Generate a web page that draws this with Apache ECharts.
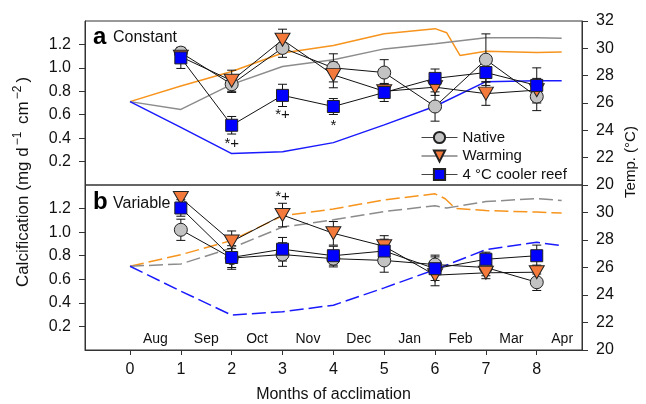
<!DOCTYPE html>
<html><head><meta charset="utf-8">
<script src="https://cdn.jsdelivr.net/npm/echarts@6/dist/echarts.min.js"></script>
<style>html,body{margin:0;padding:0;background:#fff}#c{width:646px;height:404px}</style>
</head><body><div id="c"></div>
<script>
// ---------- data ----------
const months = [1, 2, 3, 4, 5, 6, 7, 8];
const monthTicks = [0, 1, 2, 3, 4, 5, 6, 7, 8];
const monthNames = ['Aug', 'Sep', 'Oct', 'Nov', 'Dec', 'Jan', 'Feb', 'Mar', 'Apr'];
const monthNamePos = [0.5, 1.5, 2.5, 3.5, 4.5, 5.5, 6.5, 7.5, 8.5];
const calcTicks = [0.2, 0.4, 0.6, 0.8, 1.0, 1.2];
const tempTicksA = [20, 22, 24, 26, 28, 30, 32];
const tempTicksB = [20, 22, 24, 26, 28, 30];
const seriesNames = ['Native', 'Warming', '4 °C cooler reef'];

// Panel a: Constant
const nativeA = [1.13, 0.86, 1.17, 1.00, 0.96, 0.67, 1.07, 0.755];
const nativeAErr = [0.04, 0.07, 0.08, 0.12, 0.11, 0.125, 0.22, 0.12];
const warmA = [1.095, 0.89, 1.24, 0.94, 0.80, 0.835, 0.78, 0.81];
const warmAErr = [0.04, 0.09, 0.09, 0.11, 0.06, 0.07, 0.1, 0.1];
const coolA = [1.085, 0.51, 0.765, 0.67, 0.79, 0.91, 0.96, 0.85];
const coolAErr = [0.09, 0.075, 0.095, 0.068, 0.077, 0.08, 0.08, 0.15];
const sigA = ['', '*+', '*+', '*', '', '', '', ''];

// Panel b: Variable
const nativeB = [1.02, 0.78, 0.81, 0.775, 0.76, 0.725, 0.70, 0.575];
const nativeBErr = [0.09, 0.08, 0.1, 0.07, 0.1, 0.08, 0.07, 0.07];
const warmB = [1.29, 0.92, 1.145, 0.99, 0.88, 0.635, 0.655, 0.66];
const warmBErr = [0.05, 0.09, 0.1, 0.1, 0.09, 0.09, 0.05, 0.06];
const coolB = [1.205, 0.785, 0.855, 0.80, 0.84, 0.69, 0.77, 0.80];
const coolBErr = [0.07, 0.1, 0.1, 0.08, 0.1, 0.1, 0.06, 0.09];
const sigB = ['', '', '*+', '', '', '', '', ''];

// Temperature profiles (°C), panel a (solid)
const tOrangeAX = [0, 1, 2, 3, 4, 5, 6, 6.23, 6.49, 7, 8, 8.49];
const tOrangeA = [26.1, 27.24, 28.3, 29.66, 30.2, 31.07, 31.44, 31.14, 29.48, 29.78, 29.7, 29.73];
const tGreyAX = [0, 1, 2, 3, 4, 5, 6, 7, 8, 8.49];
const tGreyA = [26.1, 25.53, 27.36, 28.67, 29.16, 29.96, 30.33, 30.77, 30.77, 30.73];
const tBlueAX = [0, 1, 2, 3, 4, 5, 6, 7, 8, 8.49];
const tBlueA = [26.1, 24.22, 22.3, 22.44, 23.1, 24.4, 25.76, 27.56, 27.63, 27.63];
// panel b (dashed)
const tOrangeBX = [0, 1, 2, 3, 4, 5, 6, 6.2, 6.4, 7, 8, 8.49];
const tOrangeB = [26.09, 26.93, 27.97, 29.76, 30.25, 30.92, 31.36, 31.0, 30.3, 30.14, 30.03, 29.96];
const tGreyBX = [0, 1, 2, 3, 4, 5, 6, 6.23, 7, 8, 8.49];
const tGreyB = [26.09, 26.26, 27.42, 28.94, 29.47, 30.07, 30.49, 30.32, 30.8, 31.01, 30.87];
const tBlueBX = [0, 1, 2, 3, 4, 5, 6, 7, 8, 8.49];
const tBlueB = [26.09, 24.28, 22.54, 22.78, 23.26, 24.52, 25.85, 27.3, 27.83, 27.59];

// ---------- styles ----------
const FONT = '"Liberation Sans", Arial, Helvetica, sans-serif';
const TXT = '#111';
const AX = '#333';
const cOrange = '#f7941d', cGrey = '#8c8c8c', cBlue = '#1a1aff';
const markers = [
  { symbol: 'circle', size: 13, fill: '#c3c3c3' },
  { symbol: 'path://M0,0L16,0L8,14Z', size: [15, 13], fill: '#f47a3c' },
  { symbol: 'rect', size: 12, fill: '#0000ff' }
];

const pair = (xs, ys) => xs.map((x, i) => [x, ys[i]]);

function errSeries(vals, errs, xi, yi) {
  return {
    type: 'custom', xAxisIndex: xi, yAxisIndex: yi, z: 3, silent: true,
    data: months.map((m, i) => [m, vals[i], errs[i]]),
    encode: { x: 0, y: 1 },
    renderItem: function (params, api) {
      const x = api.value(0), v = api.value(1), e = api.value(2);
      const t = api.coord([x, v + e]), b = api.coord([x, v - e]);
      const w = 4.5, st = { stroke: '#111', lineWidth: 1 };
      return { type: 'group', children: [
        { type: 'line', shape: { x1: t[0], y1: t[1], x2: b[0], y2: b[1] }, style: st },
        { type: 'line', shape: { x1: t[0] - w, y1: t[1], x2: t[0] + w, y2: t[1] }, style: st },
        { type: 'line', shape: { x1: b[0] - w, y1: b[1], x2: b[0] + w, y2: b[1] }, style: st }
      ]};
    }
  };
}

function calcSeries(k, vals, xi, yi, sig, sigPos) {
  const mk = markers[k];
  return {
    name: seriesNames[k], type: 'line', xAxisIndex: xi, yAxisIndex: yi, z: 4,
    symbol: mk.symbol, symbolSize: mk.size, showAllSymbol: true,
    itemStyle: { color: mk.fill, borderColor: '#222', borderWidth: 1 },
    lineStyle: { color: '#111', width: 1 },
    emphasis: { disabled: true },
    data: months.map((m, i) => {
      const d = { value: [m, vals[i]] };
      if (sig && sig[i]) {
        d.label = { show: true, formatter: sig[i], position: sigPos, distance: sigPos === 'top' ? 4 : 5,
          fontSize: 15, fontFamily: FONT, color: TXT };
      }
      return d;
    })
  };
}

function tempSeries(xs, ys, color, xi, yi, dashed) {
  return {
    type: 'line', xAxisIndex: xi, yAxisIndex: yi, z: 2, symbol: 'none', silent: true,
    lineStyle: { color: color, width: 1.5, type: dashed ? [14, 5] : 'solid' },
    data: pair(xs, ys)
  };
}

const xCommon = { type: 'value', min: -0.885, max: 8.89, splitLine: { show: false } };
function calcAxis(gi) {
  return {
    type: 'value', gridIndex: gi, position: 'left', min: 0, max: 1.4,
    splitLine: { show: false },
    axisLine: { show: true, onZero: false, lineStyle: { color: AX } },
    axisTick: { show: true, customValues: calcTicks, length: 6, lineStyle: { color: AX } },
    axisLabel: { customValues: calcTicks, formatter: v => v.toFixed(1), margin: 14,
      fontSize: 16, fontFamily: FONT, color: TXT }
  };
}
function tempAxis(gi, ticks) {
  return {
    type: 'value', gridIndex: gi, position: 'right', min: 20, max: 32,
    splitLine: { show: false },
    axisLine: { show: true, onZero: false, lineStyle: { color: AX } },
    axisTick: { show: true, customValues: ticks, length: 6, lineStyle: { color: AX } },
    axisLabel: { customValues: ticks, margin: 14, fontSize: 16, fontFamily: FONT, color: TXT }
  };
}

const option = {
  animation: false,
  backgroundColor: '#fff',
  textStyle: { fontFamily: FONT },
  grid: [
    { left: 85, top: 21, width: 497, height: 164, show: true, borderColor: AX, borderWidth: 1, backgroundColor: 'transparent' },
    { left: 85, top: 185, width: 497, height: 166, show: true, borderColor: AX, borderWidth: 1, backgroundColor: 'transparent' }
  ],
  xAxis: [
    Object.assign({ gridIndex: 0, show: false }, xCommon),
    Object.assign({ gridIndex: 1, position: 'bottom',
      axisLine: { show: true, onZero: false, lineStyle: { color: AX } },
      axisTick: { show: true, customValues: monthTicks, length: 5, lineStyle: { color: AX } },
      axisLabel: { customValues: monthTicks, margin: 12, fontSize: 16, fontFamily: FONT, color: TXT },
      name: 'Months of acclimation', nameLocation: 'middle', nameGap: 37,
      nameTextStyle: { fontSize: 16, fontFamily: FONT, color: TXT } }, xCommon),
    Object.assign({ gridIndex: 1, position: 'bottom',
      axisLine: { show: false, onZero: false }, axisTick: { show: false },
      axisLabel: { inside: true, customValues: monthNamePos, margin: 4,
        formatter: v => monthNames[monthNamePos.indexOf(v)], fontSize: 14, fontFamily: FONT, color: TXT } }, xCommon)
  ],
  yAxis: [calcAxis(0), tempAxis(0, tempTicksA), calcAxis(1), tempAxis(1, tempTicksB)],
  legend: {
    data: seriesNames, orient: 'vertical', left: 416, top: 125,
    itemWidth: 36, itemHeight: 14, itemGap: 3.5, selectedMode: false,
    lineStyle: { color: '#444', width: 1 },
    textStyle: { fontSize: 15, fontFamily: FONT, color: TXT }
  },
  graphic: [
    { type: 'text', x: 93, y: 37, style: { text: 'a', font: 'bold 24px ' + FONT, fill: '#000', textVerticalAlign: 'middle' } },
    { type: 'text', x: 113, y: 38, style: { text: 'Constant', font: '16px ' + FONT, fill: TXT, textVerticalAlign: 'middle' } },
    { type: 'text', x: 93, y: 202, style: { text: 'b', font: 'bold 24px ' + FONT, fill: '#000', textVerticalAlign: 'middle' } },
    { type: 'text', x: 113, y: 204, style: { text: 'Variable', font: '16px ' + FONT, fill: TXT, textVerticalAlign: 'middle' } },
    { type: 'text', x: 22, y: 182, rotation: Math.PI / 2,
      style: { text: '{m|Calcification (mg d}{s|−1}{m| cm}{s|−2}{m|)}', textAlign: 'center', textVerticalAlign: 'middle',
        rich: { m: { fontSize: 17, fontFamily: FONT, fill: TXT, lineHeight: 20, verticalAlign: 'bottom' },
                s: { fontSize: 12, fontFamily: FONT, fill: TXT, lineHeight: 20, verticalAlign: 'top', padding: [0, 3, 0, 2] } } } },
    { type: 'text', x: 631, y: 162, rotation: Math.PI / 2,
      style: { text: 'Temp. (°C)', font: '15px ' + FONT, fill: TXT, textAlign: 'center', textVerticalAlign: 'middle' } }
  ],
  series: [
    tempSeries(tOrangeAX, tOrangeA, cOrange, 0, 1, false),
    tempSeries(tGreyAX, tGreyA, cGrey, 0, 1, false),
    tempSeries(tBlueAX, tBlueA, cBlue, 0, 1, false),
    tempSeries(tOrangeBX, tOrangeB, cOrange, 1, 3, true),
    tempSeries(tGreyBX, tGreyB, cGrey, 1, 3, true),
    tempSeries(tBlueBX, tBlueB, cBlue, 1, 3, true),
    errSeries(nativeA, nativeAErr, 0, 0),
    errSeries(warmA, warmAErr, 0, 0),
    errSeries(coolA, coolAErr, 0, 0),
    errSeries(nativeB, nativeBErr, 1, 2),
    errSeries(warmB, warmBErr, 1, 2),
    errSeries(coolB, coolBErr, 1, 2),
    calcSeries(0, nativeA, 0, 0),
    calcSeries(1, warmA, 0, 0),
    calcSeries(2, coolA, 0, 0, sigA, 'bottom'),
    calcSeries(0, nativeB, 1, 2),
    calcSeries(1, warmB, 1, 2, sigB, 'top'),
    calcSeries(2, coolB, 1, 2)
  ]
};
const chart = echarts.init(document.getElementById('c'), null, { renderer: 'canvas' });
chart.setOption(option);
</script></body></html>
